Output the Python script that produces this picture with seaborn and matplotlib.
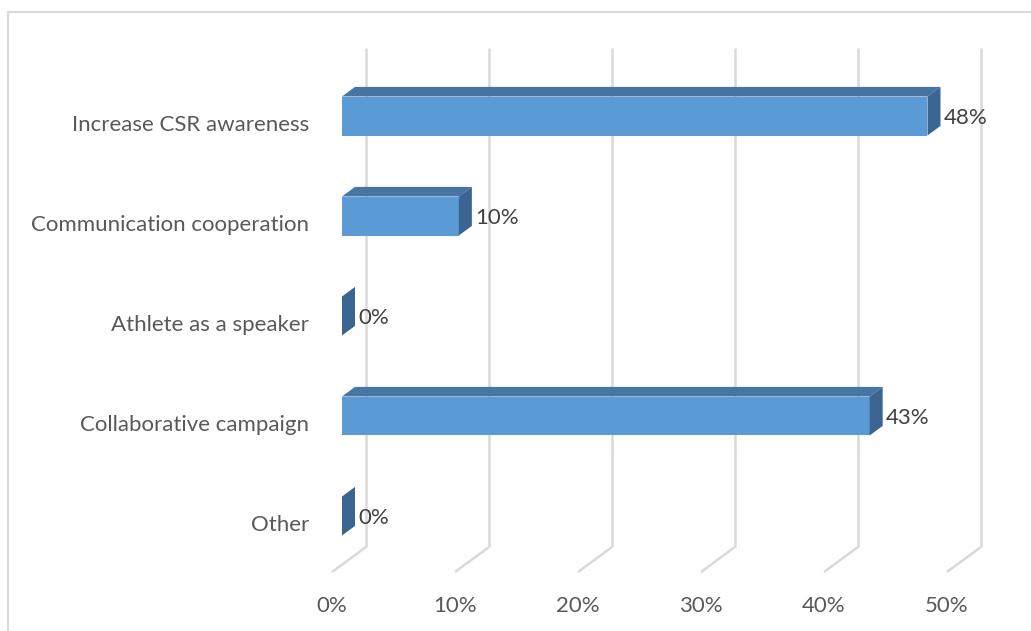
import matplotlib
matplotlib.use("Agg")
import matplotlib.pyplot as plt
from matplotlib.patches import Polygon, Rectangle
from matplotlib.transforms import Affine2D
import seaborn as sns
import pandas as pd

# ---- data ----
categories = ["Increase CSR awareness", "Communication cooperation",
              "Athlete as a speaker", "Collaborative campaign", "Other"]
values = [0.476, 0.095, 0.0, 0.429, 0.0]
value_labels = ["48%", "10%", "0%", "43%", "0%"]
tick_values = [0.0, 0.1, 0.2, 0.3, 0.4, 0.5]
tick_labels = ["0%", "10%", "20%", "30%", "40%", "50%"]

df = pd.DataFrame({"category": categories, "value": values})

sns.set_theme(style="white")
plt.rcParams["font.family"] = ["Lato", "DejaVu Sans"]

W, H = 1031, 631
fig = plt.figure(figsize=(W / 100, H / 100), dpi=100)

# geometry in pixels (oblique 3D look)
px_per_unit = 1230.0          # pixels per 100 %
px_per_cat = 100.0            # pixels per category row
depth_dx, depth_dy = 34.0, 25.0   # floor depth (front -> back)
bar_front_dx, bar_front_dy = 10.0, 7.4
bar_depth_dx, bar_depth_dy = 13.0, 9.6

left_px, right_px = 332, 981
top_px, bottom_px = 48, 572
ax = fig.add_axes([left_px / W, (H - bottom_px) / H,
                   (right_px - left_px) / W, (bottom_px - top_px) / H])

xmax = 0.5 + depth_dx / px_per_unit
y_floor = 4 + (572 - 523.4) / px_per_cat
y_top = 0 - (123.4 - 48) / px_per_cat

front_col = "#5B9BD5"
top_col = "#4674A3"
side_col = "#3A6590"
grid_col = "#D9D9D9"
fs = 16

sns.barplot(data=df, x="value", y="category", orient="h", color=front_col,
            saturation=1, width=0.39, ax=ax, linewidth=0, zorder=3)

fx = bar_front_dx / px_per_unit
fy = -bar_front_dy / px_per_cat
ddx = bar_depth_dx / px_per_unit
ddy = -bar_depth_dy / px_per_cat
shift = Affine2D().translate(fx, fy) + ax.transData

for p, v, lab in zip(ax.patches, values, value_labels):
    p.set_transform(shift)
    x0 = p.get_x()
    y0 = p.get_y()
    h = p.get_height()
    x1 = x0 + p.get_width()
    ytop, ybot = y0, y0 + h   # inverted axis: y0 is visually top
    top = Polygon([(x0, ytop), (x1, ytop), (x1 + ddx, ytop + ddy), (x0 + ddx, ytop + ddy)],
                  closed=True, facecolor=top_col, edgecolor="none", transform=shift, zorder=3)
    side = Polygon([(x1, ytop), (x1 + ddx, ytop + ddy), (x1 + ddx, ybot + ddy), (x1, ybot)],
                   closed=True, facecolor=side_col, edgecolor="none", transform=shift, zorder=3)
    ax.add_patch(top)
    ax.add_patch(side)
    yc = y0 + h / 2
    ax.text(x1 + fx + ddx + 3 / px_per_unit, yc + fy + 0.02, lab, ha="left", va="center",
            fontsize=fs, color="#404040", zorder=4)

# gridlines: back wall verticals + floor diagonals
bdx = depth_dx / px_per_unit
bdy = -depth_dy / px_per_cat
for t in tick_values:
    ax.plot([t + bdx, t + bdx], [y_floor + bdy, y_top], color=grid_col, lw=1.8,
            zorder=1, solid_capstyle="butt", clip_on=False)
    ax.plot([t, t + bdx], [y_floor, y_floor + bdy], color=grid_col, lw=1.8,
            zorder=1, solid_capstyle="butt", clip_on=False)

ax.set_xlim(0, xmax)
ax.set_ylim(y_floor, y_top)
ax.set_xticks(tick_values)
ax.set_xticklabels(tick_labels)
ax.set_yticks(range(len(categories)))
ax.set_yticklabels(categories)
ax.set_xlabel("")
ax.set_ylabel("")
ax.tick_params(axis="x", length=0, pad=17, labelsize=fs, labelcolor="#595959")
ax.tick_params(axis="y", length=0, pad=16.5, labelsize=fs, labelcolor="#595959")
for s in ax.spines.values():
    s.set_visible(False)
ax.set_facecolor("none")
ax.grid(False)

# chart border
fig.patches.append(Rectangle((8 / W, -0.1), 1.2, (H - 12) / H + 0.1,
                             transform=fig.transFigure, fill=False,
                             edgecolor=grid_col, lw=1.5))

fig.savefig("out.png", dpi=100)
